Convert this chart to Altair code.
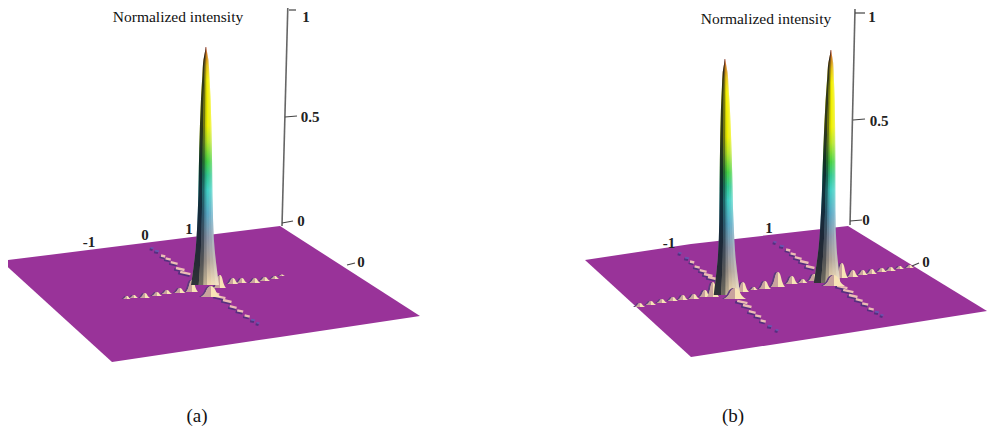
import altair as alt
import pandas as pd

# ---------- values (image pixel units) ----------
plate_a_x = [1, 112, 280, 420]
plate_a_top = [261, 247, 226, 316]
plate_a_bot = [261, 362, 337, 316]
plate_b_x = [585, 691, 848, 987]
plate_b_top = [260, 244, 226, 311]
plate_b_bot = [260, 357, 333, 311]

peak_frac = [0, .02, .055, .12, .22, .43, .69, .85, .94, 1]
peak_hw = [0.3, 1, 2.5, 3.5, 4.8, 6.3, 7.5, 9.5, 12, 14]
peak_apex_x = [206, 725, 831]
peak_apex_y = [47, 59, 50]
peak_base_x = [205, 727, 827]
peak_base_y = [285, 295, 283]
peak_hw_scale = [1.0, 0.95, 0.95]

spike_offset = [0, .03, .08, .14, .33, .4, .48, .54, .6, .7, .8, .9, 1]
spike_color = ["#b8402a", "#cf7a1c", "#e8c410", "#f4f000", "#eef000", "#b4e424", "#46d244",
               "#30c890", "#40d0c4", "#58a8c4", "#8a96a8", "#b0a498", "#f0dab0"]

lobe_x = [127, 134, 145, 157, 167, 180, 192, 220, 233, 242, 255, 265, 275, 282,
          640, 651, 662, 673, 683, 694, 705, 713, 743, 754, 765, 778, 792, 803, 814,
          842, 853, 863, 872, 882, 891, 900, 910,
          211, 735, 834]
lobe_y = [299, 298, 298, 296, 294, 293, 292, 288, 284, 283, 283, 281, 279, 276,
          307, 305, 303, 301, 300, 299, 297, 297, 292, 290, 289, 287, 284, 283, 281,
          278, 277, 275, 274, 272, 271, 269, 268,
          297, 299, 286]
lobe_h = [3, 3, 5, 4, 4, 5, 12, 13, 6, 5, 5, 4, 3, 1.5,
          4, 4, 4, 4, 5, 5, 7, 15, 10, 3, 8, 15, 8, 4, 7,
          15, 7, 5, 5, 4, 4, 3, 3,
          11, 11, 11]
lobe_w = [4, 4.5, 5, 5, 5, 5.5, 6, 6, 5.5, 5, 5.5, 5, 4.5, 3,
          5, 5, 5, 5, 5, 5.5, 5.5, 6, 6, 4, 6, 7, 6, 4.5, 5.5,
          6, 5.5, 5, 5, 5, 5, 4.5, 4.5,
          10, 11, 11]
bump_t = [-1, -.6, -.3, 0, .3, .6, 1]
bump_v = [0, .35, .85, 1, .85, .35, 0]

stripe_x = [152, 157, 163, 168, 174, 180, 185, 213, 220, 227, 233, 240, 247, 253, 258,
            680, 687, 692, 697, 703, 708, 712, 742, 747, 752, 758, 763, 770, 777,
            775, 782, 788, 793, 798, 804, 810, 842, 848, 853, 859, 865, 871, 877, 882]
stripe_y = [248, 251, 256, 259, 263, 269, 273, 293, 297, 301, 307, 311, 316, 320, 323,
            253, 258, 262, 267, 271, 275, 278, 302, 306, 312, 316, 321, 326, 330,
            242, 246, 250, 254, 258, 262, 267, 287, 291, 296, 300, 304, 309, 312, 315]
stripe_len = [1.5, 2, 2.5, 3, 4, 5, 6, 7, 6, 5, 4, 3.5, 3, 2, 1.5,
              1.5, 2, 2.5, 3, 4, 5, 5, 6, 5, 4, 3.5, 3, 2, 1.5,
              1.5, 2, 2.5, 3, 4, 5, 5, 6, 6, 5, 4, 3.5, 3, 2, 1.5]

axis_x = [288, 855]
axis_x2 = [282, 850]
axis_y = [0, 9]
axis_y2 = [226, 225]
tick_x = [289, 285, 282, 855, 853, 850, 347, 912]
tick_x2 = [296, 297, 293, 865, 865, 862, 355, 919]
tick_y = [10, 117, 223, 13, 120, 221, 265, 266]
tick_y2 = [10, 116, 221, 13, 119, 220, 263, 263]

label_text = ["1", "0.5", "0", "1", "0.5", "0", "-1", "0", "1", "0", "-1", "1", "0"]
label_x = [306, 310, 301, 872, 879, 866, 89, 145, 189, 361, 669, 769, 926]
label_y = [17, 117, 221, 17, 121, 220, 242, 235, 229, 262, 243, 228, 262]

title_text = ["Normalized intensity", "Normalized intensity", "(a)", "(b)"]
title_x = [178, 766, 197, 733]
title_y = [17, 19, 416, 416]
title_size = [15.5, 15.5, 19, 19]

PURPLE = "#993399"

X = alt.Scale(domain=[8, 992], nice=False, zero=False)
Y = alt.Scale(domain=[427, 8], nice=False, zero=False)
x_enc = alt.X("x:Q", scale=X, axis=None)
y_enc = alt.Y("y:Q", scale=Y, axis=None)

layers = []

# plates
for px, pt, pb in [(plate_a_x, plate_a_top, plate_a_bot), (plate_b_x, plate_b_top, plate_b_bot)]:
    d = pd.DataFrame({"x": px, "y": pt, "y2": pb})
    layers.append(alt.Chart(d).mark_area(color=PURPLE, interpolate="linear").encode(
        x=x_enc, y=y_enc, y2="y2:Q"))

# stripes on the ridges
sd = pd.DataFrame({"x": stripe_x, "y": stripe_y, "l": stripe_len})
dark = sd.assign(x1=sd.x - sd.l * 1.0 - .8, x2=sd.x + sd.l * .9 - .8,
                 y1=sd.y + 1.4 - sd.l * .22, y2=sd.y + 1.4 + sd.l * .22)
lite = sd[sd.l >= 2.5].copy()
lite = lite.assign(x1=lite.x - lite.l * .8, x2=lite.x + lite.l * .9,
                   y1=lite.y - lite.l * .2, y2=lite.y + lite.l * .2)
mid = sd[sd.l < 2.5].copy()
mid = mid.assign(x1=mid.x - mid.l, x2=mid.x + mid.l, y1=mid.y - mid.l * .2, y2=mid.y + mid.l * .2)
for frame, col, sw in [(dark, "#55307f", 2.6), (mid, "#6a55b0", 1.6), (lite, "#ecbdb4", 2.4)]:
    layers.append(alt.Chart(frame).mark_rule(color=col, strokeWidth=sw).encode(
        x=alt.X("x1:Q", scale=X, axis=None), x2="x2:Q",
        y=alt.Y("y1:Q", scale=Y, axis=None), y2="y2:Q"))


def lobes(idx):
    rows = []
    for i in idx:
        for t, v in zip(bump_t, bump_v):
            rows.append({"id": i, "x": lobe_x[i] + t * lobe_w[i], "xl": lobe_x[i] - 2 + t * lobe_w[i],
                         "y": lobe_y[i] - v * lobe_h[i], "y2": lobe_y[i], "t": t})
    return pd.DataFrame(rows)


def lobe_layers(idx):
    d = lobes(idx)
    shade = alt.Chart(d).mark_area(color="#5f3a7e", interpolate="monotone").encode(
        x=alt.X("xl:Q", scale=X, axis=None), y=y_enc, y2="y2:Q", detail="id:N")
    body = alt.Chart(d).mark_area(color="#f8e4b6", interpolate="monotone").encode(
        x=x_enc, y=y_enc, y2="y2:Q", detail="id:N")
    left = d[d.t <= 0]
    tan = alt.Chart(left).mark_area(color="#b98e94", opacity=.75, interpolate="monotone").encode(
        x=x_enc, y=y_enc, y2="y2:Q", detail="id:N")
    return [shade, body, tan]


layers += lobe_layers(range(37))

# the spikes
bands = [(-1, -.45, "#06101e", .82), (-.45, -.12, "#06101e", .55), (-.12, .15, "#06101e", .2),
         (.45, .75, "#ffffff", .12), (.75, 1, "#ffffff", .28)]
stops = [alt.GradientStop(color=c, offset=o) for c, o in zip(spike_color, spike_offset)]
grad = alt.Gradient(gradient="linear", stops=stops, x1=0, x2=0, y1=0, y2=1)
for k in range(3):
    rows = []
    for f, w in zip(peak_frac, peak_hw):
        c = peak_apex_x[k] + f * (peak_base_x[k] - peak_apex_x[k])
        y = peak_apex_y[k] + f * (peak_base_y[k] - peak_apex_y[k])
        rows.append({"c": c, "w": w * peak_hw_scale[k], "y": y})
    d = pd.DataFrame(rows)
    base = d.assign(x=d.c - d.w, x2=d.c + d.w)
    layers.append(alt.Chart(base).mark_area(color=grad, orient="horizontal", interpolate="monotone").encode(
        y=y_enc, x=x_enc, x2="x2:Q"))
    for a, b, col, op in bands:
        bd = d.assign(x=d.c + a * d.w, x2=d.c + b * d.w)
        layers.append(alt.Chart(bd).mark_area(color=col, opacity=op, orient="horizontal",
                                              interpolate="monotone").encode(
            y=y_enc, x=x_enc, x2="x2:Q"))

# lumps in front of each spike
layers += lobe_layers(range(37, 40))

# axes
ad = pd.DataFrame({"x": axis_x, "x2": axis_x2, "y": axis_y, "y2": axis_y2})
layers.append(alt.Chart(ad).mark_rule(color="#666666", strokeWidth=1.6).encode(
    x=x_enc, x2="x2:Q", y=y_enc, y2="y2:Q"))
td = pd.DataFrame({"x": tick_x, "x2": tick_x2, "y": tick_y, "y2": tick_y2})
layers.append(alt.Chart(td).mark_rule(color="#444444", strokeWidth=1.2).encode(
    x=x_enc, x2="x2:Q", y=y_enc, y2="y2:Q"))

# text
ld = pd.DataFrame({"x": label_x, "y": label_y, "t": label_text})
layers.append(alt.Chart(ld).mark_text(font="Liberation Serif", fontSize=15, fontWeight="bold",
                                      color="#222222", align="center", baseline="middle").encode(
    x=x_enc, y=y_enc, text="t:N"))
tt = pd.DataFrame({"x": title_x, "y": title_y, "t": title_text, "s": title_size})
for s in sorted(set(title_size)):
    layers.append(alt.Chart(tt[tt.s == s]).mark_text(font="Liberation Serif", fontSize=s,
                                                     color="#111111", align="center",
                                                     baseline="middle").encode(
        x=x_enc, y=y_enc, text="t:N"))

chart = alt.layer(*layers).properties(
    width=984, height=419, padding=0, background="white",
    autosize=alt.AutoSizeParams(type="none")
).configure_view(stroke=None)

chart.save("out.html", embed_options={"renderer": "svg", "actions": False})
